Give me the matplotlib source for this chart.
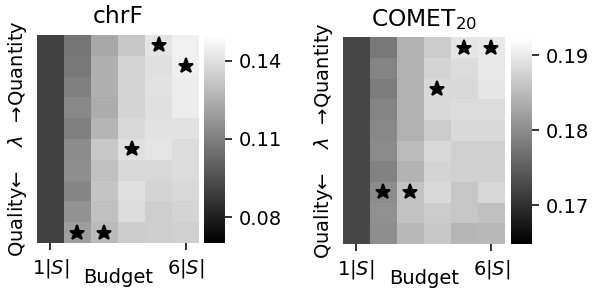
import matplotlib
matplotlib.use("Agg")
import matplotlib.pyplot as plt
import numpy as np
import seaborn as sns

budgets = [r"1$|S|$", "", "", "", "", r"6$|S|$"]

# chrF grid: rows = lambda (top: quantity -> bottom: quality), cols = budget 1..6
chrf = np.array([
    [0.0905, 0.1070, 0.1227, 0.1327, 0.1415, 0.1453],
    [0.0905, 0.1076, 0.1252, 0.1365, 0.1403, 0.1449],
    [0.0905, 0.1102, 0.1252, 0.1365, 0.1409, 0.1440],
    [0.0905, 0.1127, 0.1240, 0.1365, 0.1403, 0.1440],
    [0.0905, 0.1102, 0.1265, 0.1378, 0.1409, 0.1409],
    [0.0905, 0.1139, 0.1327, 0.1403, 0.1415, 0.1390],
    [0.0905, 0.1145, 0.1302, 0.1378, 0.1378, 0.1390],
    [0.0905, 0.1120, 0.1315, 0.1403, 0.1365, 0.1378],
    [0.0905, 0.1158, 0.1302, 0.1390, 0.1346, 0.1365],
    [0.0905, 0.1196, 0.1284, 0.1340, 0.1346, 0.1352],
])
chrf_stars = [(0, 4), (1, 5), (5, 3), (9, 1), (9, 2)]  # (row, col)
chrf_range = (0.07, 0.15)
chrf_ticks = [0.08, 0.11, 0.14]

comet = np.array([
    [0.1724, 0.1778, 0.1839, 0.1869, 0.1895, 0.1899],
    [0.1724, 0.1791, 0.1839, 0.1877, 0.1886, 0.1899],
    [0.1724, 0.1782, 0.1839, 0.1882, 0.1882, 0.1895],
    [0.1724, 0.1791, 0.1839, 0.1882, 0.1886, 0.1886],
    [0.1724, 0.1795, 0.1839, 0.1869, 0.1882, 0.1882],
    [0.1724, 0.1800, 0.1849, 0.1882, 0.1873, 0.1873],
    [0.1724, 0.1789, 0.1841, 0.1877, 0.1873, 0.1873],
    [0.1724, 0.1800, 0.1858, 0.1882, 0.1862, 0.1880],
    [0.1724, 0.1804, 0.1858, 0.1869, 0.1862, 0.1856],
    [0.1724, 0.1802, 0.1847, 0.1864, 0.1845, 0.1847],
])
comet_stars = [(0, 4), (0, 5), (2, 3), (7, 1), (7, 2)]
comet_range = (0.1648, 0.1924)
comet_ticks = [0.17, 0.18, 0.19]

ylabel = "Quality\u2190    $\\lambda$  \u2192Quantity"

W, H = 604, 293
DPI = 140
fig = plt.figure(figsize=(W / DPI, H / DPI), dpi=DPI)

def fx(px):
    return px / W

def fy(py):
    return 1 - py / H

panels = [
    dict(data=chrf, stars=chrf_stars, rng=chrf_range, ticks=chrf_ticks, title="chrF",
         hx=(36.7, 199.3), hy=(35, 243), cx=204),
    dict(data=comet, stars=comet_stars, rng=comet_range, ticks=comet_ticks,
         title=r"COMET$_{20}$", hx=(342.7, 505), hy=(37.3, 244), cx=511),
]

for p in panels:
    ax = fig.add_axes([fx(p["hx"][0]), fy(p["hy"][1]), fx(p["hx"][1] - p["hx"][0]),
                       (p["hy"][1] - p["hy"][0]) / H])
    cax = fig.add_axes([fx(p["cx"]), fy(p["hy"][1]), fx(21), (p["hy"][1] - p["hy"][0]) / H])
    sns.heatmap(p["data"], ax=ax, cbar_ax=cax, cmap="gray", vmin=p["rng"][0], vmax=p["rng"][1],
                xticklabels=False, yticklabels=False)
    ax.set_xticks([0.5, 5.5])
    ax.set_xticklabels([budgets[0], budgets[-1]], fontsize=10)
    ax.set_yticks([])
    ax.tick_params(axis="x", length=3.5, width=0.8, pad=3.5)
    ax.set_xlabel("Budget", fontsize=10, labelpad=-6)
    ax.set_ylabel(ylabel, fontsize=10)
    ax.set_title(p["title"], fontsize=12)
    rows = [s[0] + 0.5 for s in p["stars"]]
    cols = [s[1] + 0.5 for s in p["stars"]]
    ax.plot(cols, rows, linestyle="none", marker="*", color="black", markersize=8)
    cax.set_yticks(p["ticks"])
    cax.set_yticklabels([f"{t:.2f}" for t in p["ticks"]], fontsize=10)
    cax.tick_params(length=3.5, width=0.8)

fig.savefig("out.png", dpi=DPI)
